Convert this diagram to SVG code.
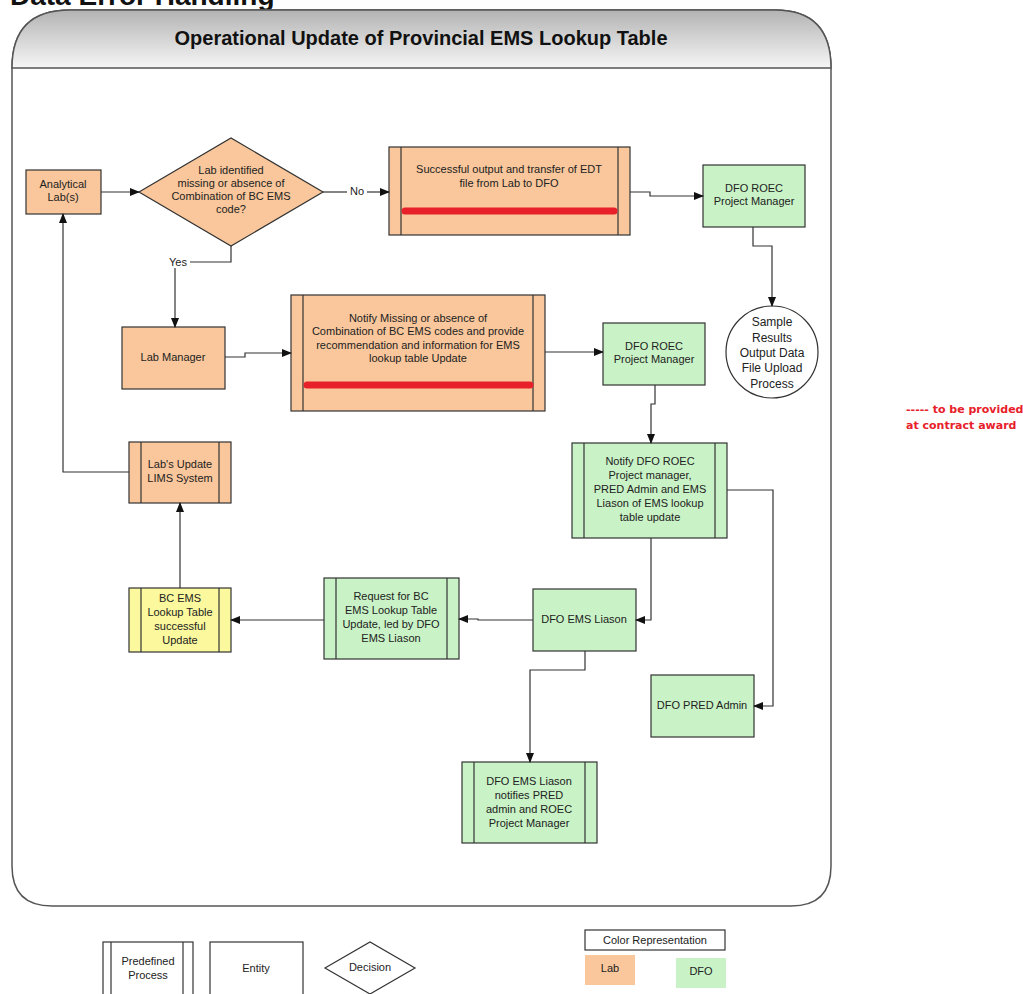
<svg xmlns="http://www.w3.org/2000/svg" width="1023" height="994" viewBox="0 0 1023 994">
<defs>
<linearGradient id="hdr" x1="0" y1="0" x2="0" y2="1">
<stop offset="0" stop-color="#b3b3b3"/>
<stop offset="1" stop-color="#f6f6f6"/>
</linearGradient>
<marker id="ah" markerWidth="10" markerHeight="8" refX="9" refY="4" orient="auto" markerUnits="userSpaceOnUse">
<path d="M0,0 L10,4 L0,8 z" fill="#111"/>
</marker>
</defs>
<style>
text{font-family:"Liberation Sans",Arial,sans-serif;fill:#222;font-size:11px;text-anchor:middle}
.lab{fill:#f9c79b;stroke:#333;stroke-width:1.2}
.dfo{fill:#c9f3c6;stroke:#333;stroke-width:1.2}
.yel{fill:#fbf89e;stroke:#333;stroke-width:1.2}
.wht{fill:#fff;stroke:#333;stroke-width:1.2}
.in{stroke:#333;stroke-width:1.2}
.con path{fill:none;stroke:#333;stroke-width:1.2}
.arr{marker-end:url(#ah)}
.red{stroke:#e8202a;stroke-width:7;stroke-linecap:round}
.note{font-family:"DejaVu Sans",Verdana,sans-serif;font-weight:bold;font-size:11px;fill:#e8202a;text-anchor:start}
</style>
<rect width="1023" height="994" fill="#fff"/>
<text x="10" y="5" style="font-size:28px;font-weight:bold;text-anchor:start;fill:#111">Data Error Handling</text>

<g id="container">
<path d="M12,866 L12,68 Q12,10 70,10 L775,10 Q831,10 831,68 L831,866 Q831,906 791,906 L52,906 Q12,906 12,866 Z" fill="#fff" stroke="#555" stroke-width="1.5"/>
<path d="M12,68 Q12,10 70,10 L775,10 Q831,10 831,68 Z" fill="url(#hdr)" stroke="#555" stroke-width="1.5"/>
<text x="421" y="45" style="font-size:20px;font-weight:bold;fill:#111">Operational Update of Provincial EMS Lookup Table</text>
</g>

<g id="n-analytical">
<rect class="lab" x="26" y="170" width="75" height="44"/>
<text x="63" y="188">Analytical</text><text x="63" y="201">Lab(s)</text>
</g>
<g id="n-decision">
<polygon class="lab" points="139,192 231,138 323,192 231,246"/>
<text x="231" y="174">Lab identified</text>
<text x="231" y="187">missing or absence of</text>
<text x="231" y="200">Combination of BC EMS</text>
<text x="231" y="213">code?</text>
</g>
<g id="n-success">
<rect class="lab" x="389" y="147" width="241" height="88"/>
<line class="in" x1="401" y1="147" x2="401" y2="235"/><line class="in" x1="618" y1="147" x2="618" y2="235"/>
<text x="509" y="173">Successful output and transfer of EDT</text>
<text x="509" y="187">file from Lab to DFO</text>
<line class="red" x1="405" y1="211" x2="614" y2="211"/>
</g>
<g id="n-roec1">
<rect class="dfo" x="703" y="165" width="102" height="62"/>
<text x="754" y="192">DFO ROEC</text><text x="754" y="205">Project Manager</text>
</g>
<g id="n-sample">
<circle cx="772" cy="352" r="46" fill="#fff" stroke="#333" stroke-width="1.2"/>
<text x="772" y="326" style="font-size:12px">Sample</text>
<text x="772" y="342" style="font-size:12px">Results</text>
<text x="772" y="357" style="font-size:12px">Output Data</text>
<text x="772" y="372" style="font-size:12px">File Upload</text>
<text x="772" y="388" style="font-size:12px">Process</text>
</g>
<g id="n-labmgr">
<rect class="lab" x="122" y="327" width="103" height="62"/>
<text x="173" y="361">Lab Manager</text>
</g>
<g id="n-notifymissing">
<rect class="lab" x="291" y="295" width="254" height="116"/>
<line class="in" x1="303" y1="295" x2="303" y2="411"/><line class="in" x1="533" y1="295" x2="533" y2="411"/>
<text x="418" y="322">Notify Missing or absence of</text>
<text x="418" y="335">Combination of BC EMS codes and provide</text>
<text x="418" y="349">recommendation and information for EMS</text>
<text x="418" y="362">lookup table Update</text>
<line class="red" x1="307" y1="385" x2="530" y2="385"/>
</g>
<g id="n-roec2">
<rect class="dfo" x="603" y="323" width="102" height="62"/>
<text x="654" y="350">DFO ROEC</text><text x="654" y="363">Project Manager</text>
</g>
<g id="n-notifydfo">
<rect class="dfo" x="572" y="443" width="155" height="95"/>
<line class="in" x1="584" y1="443" x2="584" y2="538"/><line class="in" x1="715" y1="443" x2="715" y2="538"/>
<text x="650" y="465">Notify DFO ROEC</text>
<text x="650" y="479">Project manager,</text>
<text x="650" y="493">PRED Admin and EMS</text>
<text x="650" y="507">Liason of EMS lookup</text>
<text x="650" y="521">table update</text>
</g>
<g id="n-pred">
<rect class="dfo" x="651" y="675" width="103" height="62"/>
<text x="702" y="709">DFO PRED Admin</text>
</g>
<g id="n-emsliason">
<rect class="dfo" x="533" y="589" width="103" height="62"/>
<text x="584" y="623">DFO EMS Liason</text>
</g>
<g id="n-request">
<rect class="dfo" x="324" y="578" width="135" height="81"/>
<line class="in" x1="336" y1="578" x2="336" y2="659"/><line class="in" x1="447" y1="578" x2="447" y2="659"/>
<text x="391" y="600">Request for BC</text>
<text x="391" y="614">EMS Lookup Table</text>
<text x="391" y="628">Update, led by DFO</text>
<text x="391" y="642">EMS Liason</text>
</g>
<g id="n-bcems">
<rect class="yel" x="129" y="588" width="102" height="64"/>
<line class="in" x1="141" y1="588" x2="141" y2="652"/><line class="in" x1="219" y1="588" x2="219" y2="652"/>
<text x="180" y="602">BC EMS</text>
<text x="180" y="616">Lookup Table</text>
<text x="180" y="630">successful</text>
<text x="180" y="644">Update</text>
</g>
<g id="n-labupdate">
<rect class="lab" x="129" y="442" width="102" height="61"/>
<line class="in" x1="141" y1="442" x2="141" y2="503"/><line class="in" x1="219" y1="442" x2="219" y2="503"/>
<text x="180" y="468">Lab's Update</text>
<text x="180" y="482">LIMS System</text>
</g>
<g id="n-notifies">
<rect class="dfo" x="462" y="762" width="135" height="81"/>
<line class="in" x1="474" y1="762" x2="474" y2="843"/><line class="in" x1="585" y1="762" x2="585" y2="843"/>
<text x="529" y="785">DFO EMS Liason</text>
<text x="529" y="799">notifies PRED</text>
<text x="529" y="813">admin and ROEC</text>
<text x="529" y="827">Project Manager</text>
</g>

<g id="connectors" class="con">
<path class="arr" d="M101,192 L139,192"/>
<path d="M323,192 L347,192"/>
<path class="arr" d="M367,192 L389,192"/>
<path class="arr" d="M630,192 L650,192 L650,196 L703,196"/>
<path class="arr" d="M753,227 L753,246 L772,246 L772,306"/>
<path d="M231,246 L231,262 L190,262"/>
<path class="arr" d="M175,268 L175,327"/>
<path class="arr" d="M225,357 L245,357 L245,353 L291,353"/>
<path class="arr" d="M545,352 L603,352"/>
<path class="arr" d="M655,385 L655,404 L651,404 L651,443"/>
<path class="arr" d="M727,490 L773,490 L773,706 L754,706"/>
<path class="arr" d="M651,538 L651,620 L636,620"/>
<path class="arr" d="M533,620 L478,620 L478,619 L459,619"/>
<path class="arr" d="M324,620 L231,620"/>
<path class="arr" d="M180,588 L180,503"/>
<path class="arr" d="M129,472 L63,472 L63,214"/>
<path class="arr" d="M585,651 L585,670 L530,670 L530,762"/>
</g>
<text x="357" y="195">No</text>
<text x="178" y="266">Yes</text>

<g id="legend">
<rect class="wht" x="103" y="942" width="90" height="60"/>
<line class="in" x1="111" y1="942" x2="111" y2="994"/><line class="in" x1="183" y1="942" x2="183" y2="994"/>
<text x="148" y="965">Predefined</text><text x="148" y="979">Process</text>
<rect class="wht" x="210" y="942" width="93" height="60"/>
<text x="256" y="972">Entity</text>
<polygon class="wht" points="325,968 370,942 415,968 370,994"/>
<text x="370" y="971">Decision</text>
<rect class="wht" x="585" y="930" width="140" height="20"/>
<text x="655" y="944">Color Representation</text>
<rect x="585" y="955" width="50" height="30" fill="#f9c79b"/>
<text x="610" y="972">Lab</text>
<rect x="676" y="958" width="50" height="30" fill="#c9f3c6"/>
<text x="701" y="975">DFO</text>
</g>
<text class="note" x="906" y="413">----- to be provided</text>
<text class="note" x="906" y="429">at contract award</text>
</svg>
